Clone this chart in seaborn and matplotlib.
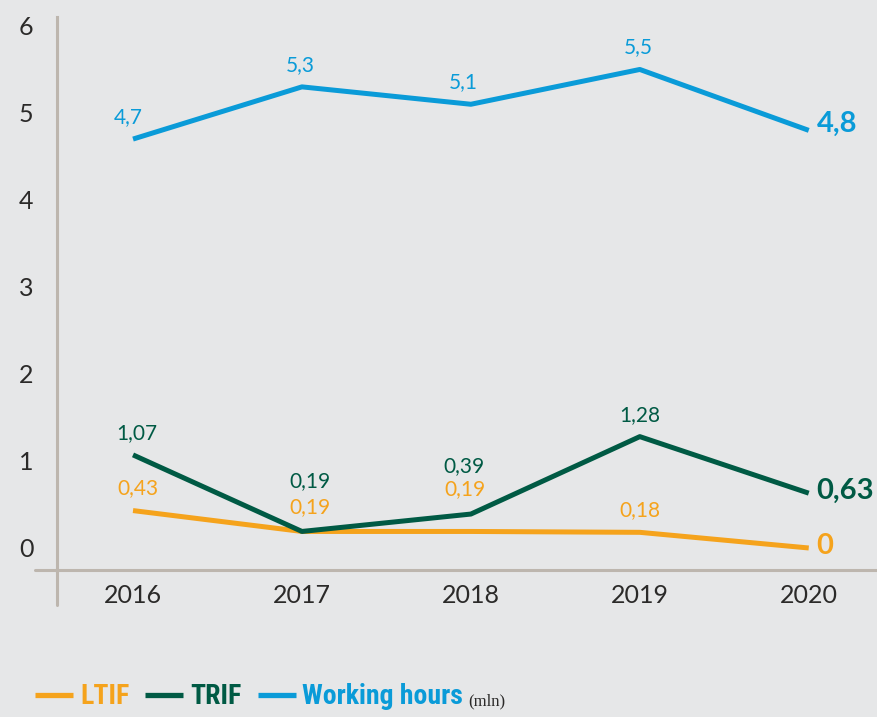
import matplotlib
matplotlib.use("Agg")
import matplotlib.pyplot as plt
import seaborn as sns
import pandas as pd
from matplotlib.lines import Line2D
from matplotlib import font_manager as fm
from matplotlib.font_manager import FontProperties

# ---- data ----
years = ["2016", "2017", "2018", "2019", "2020"]
ltif = [0.43, 0.19, 0.19, 0.18, 0.0]
trif = [1.07, 0.19, 0.39, 1.28, 0.63]
working_hours = [4.7, 5.3, 5.1, 5.5, 4.8]
ltif_labels = ["0,43", "0,19", "0,19", "0,18", "0"]
trif_labels = ["1,07", "0,19", "0,39", "1,28", "0,63"]
wh_labels = ["4,7", "5,3", "5,1", "5,5", "4,8"]
yticks = [0, 1, 2, 3, 4, 5, 6]
series_names = ["LTIF", "TRIF", "Working hours"]
unit_label = "(mln)"

# ---- style ----
BG = "#e6e7e8"
C_LTIF = "#f5a31c"
C_TRIF = "#005a44"
C_WH = "#0a9bd8"
AXC = "#bdb6ae"
TXT = "#2b2a29"

sns.set_theme(style="white")
plt.rcParams["font.family"] = ["Lato", "DejaVu Sans"]


def is_bold(f):
    w = f.weight
    return w in ("bold", 700, "700") or (isinstance(w, int) and w >= 700)


def pick_legend_font():
    fl = fm.fontManager.ttflist
    for nm in ("Roboto Condensed", "Liberation Sans Narrow", "Open Sans Condensed", "Noto Sans Condensed"):
        for f in fl:
            if f.name == nm and is_bold(f) and f.style == "normal":
                return FontProperties(fname=f.fname)
    for nm in ("DejaVu Serif", "DejaVu Sans", "Noto Sans", "Open Sans", "Roboto"):
        for f in fl:
            if f.name == nm and is_bold(f) and f.style == "normal" and "ondensed" in str(f.stretch) + f.fname:
                return FontProperties(fname=f.fname)
    return FontProperties(family=["Liberation Serif", "DejaVu Serif"], weight="bold")


W, H = 878, 717
fig = plt.figure(figsize=(W / 100, H / 100), dpi=100, facecolor=BG)
left_px, right_px, top_px, bot_px = 57, 878, 17, 570
ax = fig.add_axes([left_px / W, 1 - bot_px / H, (right_px - left_px) / W, (bot_px - top_px) / H])
ax.set_facecolor(BG)

df = pd.DataFrame({
    "year": list(range(len(years))) * 3,
    "value": ltif + trif + working_hours,
    "series": [series_names[0]] * 5 + [series_names[1]] * 5 + [series_names[2]] * 5,
})
palette = {"LTIF": C_LTIF, "TRIF": C_TRIF, "Working hours": C_WH}
sns.lineplot(data=df, x="year", y="value", hue="series", palette=palette,
             linewidth=3.6, ax=ax, legend=False, solid_capstyle="butt")

ax.set_xlim(-0.45, 4.41)
ax.set_ylim(-0.253, 6.103)
ax.set_xticks(range(len(years)))
ax.set_xticklabels(years)
ax.set_yticks(yticks)
ax.set_yticklabels([str(v) for v in yticks])
ax.tick_params(axis="both", length=0, colors=TXT, labelsize=18)
ax.tick_params(axis="y", pad=17)
ax.tick_params(axis="x", pad=10)
ax.set_xlabel("")
ax.set_ylabel("")
for s in ["top", "right"]:
    ax.spines[s].set_visible(False)
for s in ["left", "bottom"]:
    ax.spines[s].set_color(AXC)
    ax.spines[s].set_linewidth(2.2)
# axis extensions
ax.plot([0, 0], [0, -35 / (bot_px - top_px)], transform=ax.transAxes, color=AXC, lw=2.2, clip_on=False)
ax.plot([-22 / (right_px - left_px), 0], [0, 0], transform=ax.transAxes, color=AXC, lw=2.2, clip_on=False)

# ---- value labels ----
def put_labels(vals, labels, color, offsets):
    for i, (v, lab) in enumerate(zip(vals, labels)):
        dx, dy = offsets[i]
        last = i == len(vals) - 1
        ax.annotate(lab, (i, v), xytext=(dx, dy), textcoords="offset pixels",
                    ha="left" if last else "center", va="center", color=color,
                    fontsize=21 if last else 15, fontweight="bold" if last else "normal",
                    annotation_clip=False)

put_labels(working_hours, wh_labels, C_WH, [(-5, 22), (-2, 22), (-8, 22), (-2, 22), (8, 7)])
put_labels(trif, trif_labels, C_TRIF, [(4, 22), (8, 50), (-7, 48), (0, 22), (8, 2)])
put_labels(ltif, ltif_labels, C_LTIF, [(5, 22), (8, 24), (-6, 42), (0, 22), (8, 2)])

# ---- legend (laid out left to right) ----
renderer = fig.canvas.get_renderer()
leg_fp = pick_legend_font()
# choose size so that the longest name is ~161 px wide, at most 25 pt
probe = fig.text(0, 0, series_names[2], fontproperties=leg_fp, fontsize=20)
w20 = probe.get_window_extent(renderer).width
probe.remove()
leg_size = min(25.0, 20 * 161.0 / w20)

ly_px = 695
x = 35
for name, col in zip(series_names, [C_LTIF, C_TRIF, C_WH]):
    fig.add_artist(Line2D([x / W, (x + 38) / W], [1 - ly_px / H] * 2, color=col, lw=3.8,
                          transform=fig.transFigure, solid_capstyle="butt"))
    x += 38 + 7
    t = fig.text(x / W, 1 - (ly_px + 2) / H, name, color=col, fontproperties=leg_fp,
                 fontsize=leg_size, ha="left", va="center")
    x += t.get_window_extent(renderer).width + 16
x -= 11
fig.text(x / W, 1 - (ly_px + 6) / H, unit_label, color=TXT, fontsize=12,
         family=["Liberation Serif", "DejaVu Serif"], ha="left", va="center")

fig.savefig("out.png", dpi=100, facecolor=BG)
